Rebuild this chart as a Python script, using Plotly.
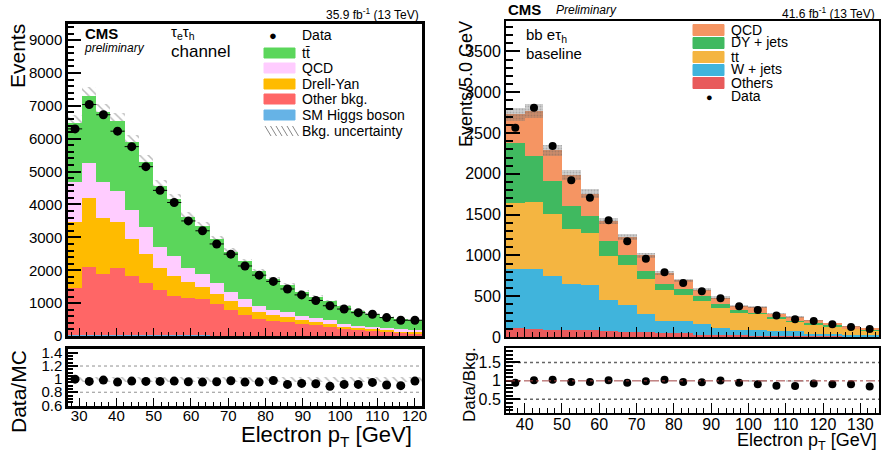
import numpy as np
import plotly.graph_objects as go

W, H = 881, 460

# ---------------- Left panel data (tau_e tau_h channel, 35.9 fb-1) ----------------
left_edges = np.linspace(27, 122, 26)
left_centers = 0.5 * (left_edges[:-1] + left_edges[1:])
left_width = left_edges[1] - left_edges[0]

left_higgs = [30, 35, 32, 30, 28, 25, 22, 20, 18, 16, 14, 12, 10, 9, 8, 7, 6, 5, 5, 4, 4, 3, 3, 2, 2]
left_other = [1440, 2055, 1868, 2050, 1782, 1585, 1378, 1200, 1152, 1104, 956, 778, 630, 511, 452, 413, 364, 315, 275, 226, 196, 167, 137, 108, 88]
left_dy = [2000, 2100, 1680, 1390, 1150, 880, 680, 590, 460, 380, 310, 270, 230, 200, 170, 150, 120, 110, 90, 50, 30, 30, 30, 30, 20]
left_qcd = [1200, 1070, 1110, 950, 860, 840, 630, 630, 430, 380, 320, 270, 250, 200, 160, 160, 120, 110, 110, 90, 80, 80, 80, 60, 70]
left_tt = [1810, 2040, 2120, 2115, 2095, 1975, 1860, 1730, 1570, 1480, 1340, 1240, 1150, 1060, 940, 820, 730, 660, 570, 550, 460, 390, 340, 310, 300]
left_data = [6300, 7040, 6730, 6230, 5760, 5150, 4430, 4060, 3500, 3200, 2800, 2490, 2130, 1850, 1660, 1430, 1250, 1080, 920, 820, 710, 660, 560, 480, 480]
left_ratio = [1.00, 0.965, 0.985, 0.955, 0.97, 0.965, 0.965, 0.97, 0.96, 0.955, 0.96, 0.975, 0.955, 0.955, 0.98, 0.92, 0.935, 0.93, 0.89, 0.92, 0.92, 0.95, 0.91, 0.90, 0.97]
left_unc_frac = 0.036
left_ratio_unc = 0.04

# ---------------- Right panel data (bb e tau_h baseline, 41.6 fb-1) ----------------
right_edges = np.linspace(35, 135, 21)
right_centers = 0.5 * (right_edges[:-1] + right_edges[1:])
right_width = right_edges[1] - right_edges[0]

right_others = [110, 100, 90, 85, 80, 70, 65, 60, 55, 50, 29, 25, 20, 18, 15, 12, 10, 8, 7, 6]
right_wjets = [728, 730, 662, 569, 562, 380, 324, 218, 141, 146, 127, 90, 70, 72, 55, 62, 31, 25, 22, 15]
right_tt = [802, 822, 760, 674, 633, 543, 490, 429, 376, 323, 285, 240, 213, 192, 147, 110, 115, 98, 69, 61]
right_dy = [738, 562, 400, 282, 204, 180, 131, 98, 74, 74, 58, 49, 24, 17, 28, 17, 12, 12, 12, 12]
right_qcd = [352, 556, 376, 372, 278, 249, 215, 196, 139, 102, 82, 79, 58, 65, 41, 44, 37, 29, 21, 16]
right_data = [2566, 2811, 2341, 1920, 1708, 1430, 1173, 960, 793, 662, 560, 474, 376, 331, 262, 217, 196, 156, 123, 98]
right_ratio = [0.95, 1.02, 1.03, 0.97, 0.97, 1.02, 0.95, 0.99, 1.03, 0.97, 0.96, 1.01, 0.95, 0.91, 0.87, 0.86, 0.93, 0.91, 0.91, 0.85]
right_ratio_unc = [0.01, 0.01, 0.01, 0.01, 0.01, 0.01, 0.01, 0.01, 0.01, 0.01, 0.01, 0.01, 0.01, 0.03, 0.01, 0.03, 0.01, 0.01, 0.01, 0.01]
right_unc_frac = 0.03

# ---------------- styles ----------------
FONT = "Liberation Sans"
C_L = dict(tt="#5bd65b", qcd="#ffccff", dy="#ffbb00", other="#ff6666", higgs="#66b3e6")
C_R = dict(qcd="#f59563", dy="#40b960", tt="#f4b541", w="#40b4dc", oth="#e85a5b")


def px(x):
    return x / W


def py(y):
    return 1 - y / H


fig = go.Figure()

# ---- left main ----
ltot = np.array(left_higgs) + np.array(left_other) + np.array(left_dy) + np.array(left_qcd) + np.array(left_tt)
fig.add_trace(go.Bar(x=left_centers, y=2 * ltot * left_unc_frac, base=ltot * (1 - left_unc_frac), width=left_width,
                     xaxis="x", yaxis="y", showlegend=False,
                     marker=dict(color="rgba(0,0,0,0)", line=dict(width=0),
                                 pattern=dict(shape="\\", fgcolor="#7a7a7a", bgcolor="rgba(0,0,0,0)",
                                              size=6, solidity=0.25, fillmode="overlay"))))
for vals, col in [(left_higgs, C_L["higgs"]), (left_other, C_L["other"]), (left_dy, C_L["dy"]),
                  (left_qcd, C_L["qcd"]), (left_tt, C_L["tt"])]:
    fig.add_trace(go.Bar(x=left_centers, y=vals, width=left_width, xaxis="x", yaxis="y",
                         marker=dict(color=col, line=dict(width=0)), showlegend=False))
fig.add_trace(go.Scatter(x=left_centers, y=left_data, mode="markers", xaxis="x", yaxis="y",
                         marker=dict(color="black", size=9),
                         error_x=dict(type="constant", value=left_width / 2, thickness=1, width=0, color="black"),
                         showlegend=False))

# ---- left ratio ----
fig.add_trace(go.Bar(x=left_centers, y=[2 * left_ratio_unc] * len(left_centers), base=1 - left_ratio_unc,
                     width=left_width, xaxis="x2", yaxis="y2", showlegend=False,
                     marker=dict(color="rgba(0,0,0,0)", line=dict(width=0),
                                 pattern=dict(shape="\\", fgcolor="#7a7a7a", bgcolor="rgba(0,0,0,0)",
                                              size=6, solidity=0.25, fillmode="overlay"))))
fig.add_trace(go.Scatter(x=left_centers, y=left_ratio, mode="markers", xaxis="x2", yaxis="y2",
                         marker=dict(color="black", size=9), showlegend=False))

# ---- right main ----
rtot = (np.array(right_others) + np.array(right_wjets) + np.array(right_tt) + np.array(right_dy)
        + np.array(right_qcd))
for vals, col in [(right_others, C_R["oth"]), (right_wjets, C_R["w"]), (right_tt, C_R["tt"]),
                  (right_dy, C_R["dy"]), (right_qcd, C_R["qcd"])]:
    fig.add_trace(go.Bar(x=right_centers, y=vals, width=right_width, xaxis="x3", yaxis="y3",
                         marker=dict(color=col, line=dict(width=0)), showlegend=False))
fig.add_trace(go.Bar(x=right_centers, y=2 * rtot * right_unc_frac, base=rtot * (1 - right_unc_frac),
                     width=right_width, xaxis="x3", yaxis="y3", showlegend=False,
                     marker=dict(color="rgba(120,120,120,0.35)", line=dict(width=0),
                                 pattern=dict(shape=".", fgcolor="rgba(90,90,90,0.6)", size=3, solidity=0.3))))
fig.add_trace(go.Scatter(x=right_centers, y=right_data, mode="markers", xaxis="x3", yaxis="y3",
                         marker=dict(color="black", size=8), showlegend=False))

# ---- right ratio ----
fig.add_trace(go.Bar(x=right_centers, y=[2 * u for u in right_ratio_unc],
                     base=[1 - u for u in right_ratio_unc], width=right_width, xaxis="x4", yaxis="y4",
                     marker=dict(color="rgba(170,170,170,0.5)", line=dict(width=0)), showlegend=False))
fig.add_trace(go.Scatter(x=right_centers, y=right_ratio, mode="markers", xaxis="x4", yaxis="y4",
                         marker=dict(color="black", size=8), showlegend=False))

# ---------------- axes ----------------
def xax(domain, rng, labels, anchor, tl_major, tl_minor, size, lw, standoff=0):
    return dict(domain=domain, range=rng, anchor=anchor, showgrid=False, zeroline=False, automargin=False,
                showline=True, mirror=True, linecolor="black", linewidth=lw,
                ticks="inside", ticklen=tl_major, tickwidth=1, tickcolor="black", dtick=10, tick0=0,
                minor=dict(ticks="inside", ticklen=tl_minor, dtick=2, tickcolor="black", showgrid=False),
                showticklabels=labels, ticklabelstandoff=standoff,
                tickfont=dict(family=FONT, size=size, color="black"))


def yax(domain, rng, anchor, dtick, mdtick, tl_major, tl_minor, size, lw, tickvals=None):
    d = dict(domain=domain, range=rng, anchor=anchor, showgrid=False, zeroline=False, automargin=False,
             showline=True, mirror=True, linecolor="black", linewidth=lw,
             ticks="inside", ticklen=tl_major, tickwidth=1.5, tickcolor="black",
             minor=dict(ticks="inside", ticklen=tl_minor, dtick=mdtick, tick0=0, tickcolor="black", showgrid=False),
             tickfont=dict(family=FONT, size=size, color="black"))
    if tickvals is not None:
        d["tickvals"] = tickvals
    else:
        d["dtick"] = dtick
        d["tick0"] = 0
    return d


LX = [px(68), px(422)]
RX = [px(506), px(879)]
fig.update_layout(
    xaxis=xax(LX, [27, 122], False, "y", 8, 4, 15, 2.5),
    yaxis=yax([py(336), py(24)], [0, 9490], "x", 1000, 200, 13, 6, 15, 2.5),
    xaxis2=xax(LX, [27, 122], True, "y2", 8, 4, 15, 2.5, standoff=-6),
    yaxis2=yax([py(406), py(349)], [0.59, 1.46], "x2", None, 0.05, 10, 5, 15, 2.5,
               tickvals=[0.6, 0.8, 1.0, 1.2, 1.4]),
    xaxis3=xax(RX, [35, 135], False, "y3", 10, 5, 16, 2),
    yaxis3=yax([py(337), py(21)], [0, 3873], "x3", 500, 100, 14, 7, 16, 2),
    xaxis4=xax(RX, [35, 135], True, "y4", 10, 5, 16, 2, standoff=-4),
    yaxis4=yax([py(413), py(348)], [0.13, 1.89], "x4", None, 0.1, 14, 7, 16, 2,
               tickvals=[0.5, 1.0, 1.5]),
)
fig.update_layout(yaxis2=dict(ticktext=["0.6", "0.8", "1", "1.2", "1.4"]),
                  yaxis4=dict(ticktext=["0.5", "1", "1.5"]))

fig.update_layout(barmode="stack", bargap=0, width=W, height=H,
                  margin=dict(l=0, r=0, t=0, b=0), plot_bgcolor="white", paper_bgcolor="white",
                  showlegend=False, font=dict(family=FONT, color="black"))

# ---------------- reference lines in ratio panels ----------------
shapes = []
for yv in [0.8, 1.2]:
    shapes.append(dict(type="line", xref="x2 domain", yref="y2", x0=0, x1=1, y0=yv, y1=yv,
                       line=dict(color="#909090", width=1, dash="dot"), layer="below"))
for yv in [0.5, 1.5]:
    shapes.append(dict(type="line", xref="x4 domain", yref="y4", x0=0, x1=1, y0=yv, y1=yv,
                       line=dict(color="#666666", width=1.5, dash="dot"), layer="below"))
shapes.append(dict(type="line", xref="x4 domain", yref="y4", x0=0, x1=1, y0=1, y1=1,
                   line=dict(color="#a04040", width=1, dash="dashdot"), layer="above"))

# ---------------- manual legends ----------------
ann = []


def text(x, y, s, size, xanchor="left", bold=False, italic=False, angle=0, yanchor="middle"):
    if bold:
        s = "<b>" + s + "</b>"
    if italic:
        s = "<i>" + s + "</i>"
    ann.append(dict(x=px(x), y=py(y), xref="paper", yref="paper", text=s, showarrow=False,
                    xanchor=xanchor, yanchor=yanchor, textangle=angle,
                    font=dict(family=FONT, size=size, color="black")))


# left legend
left_leg = [("tt̄", C_L["tt"], 53), ("QCD", C_L["qcd"], 68), ("Drell-Yan", C_L["dy"], 84),
            ("Other bkg.", C_L["other"], 99), ("SM Higgs boson", C_L["higgs"], 115)]
text(273, 35, "●", 13, xanchor="center")
text(300, 35, "Data", 14)
for lab, col, yc in left_leg:
    shapes.append(dict(type="rect", xref="paper", yref="paper", x0=px(264), x1=px(295),
                       y0=py(yc + 5), y1=py(yc - 5), fillcolor=col, line=dict(color=col, width=1)))
    text(300, yc, lab, 14)
for k in range(6):
    xa = 265 + k * 5.5
    shapes.append(dict(type="line", xref="paper", yref="paper", x0=px(xa), x1=px(xa + 6),
                       y0=py(126), y1=py(136), line=dict(color="#888888", width=1)))
text(300, 131, "Bkg. uncertainty", 14)

# right legend
right_leg = [("QCD", C_R["qcd"], 30), ("DY + jets", C_R["dy"], 43), ("tt", C_R["tt"], 57),
             ("W + jets", C_R["w"], 70), ("Others", C_R["oth"], 83)]
for lab, col, yc in right_leg:
    shapes.append(dict(type="rect", xref="paper", yref="paper", x0=px(693), x1=px(724),
                       y0=py(yc + 5.5), y1=py(yc - 5.5), fillcolor=col, line=dict(color=col, width=1)))
    text(729, yc - 0.5, lab, 14)
text(709, 97, "●", 11, xanchor="center")
text(729, 96, "Data", 14)

# ---------------- labels ----------------
text(421, 14, "35.9 fb<sup>-1</sup> (13 TeV)", 12, xanchor="right")
text(83, 33, "CMS", 15, bold=True)
text(82, 48, "preliminary", 12, italic=True)
text(169, 32, "τ<sub>e</sub>τ<sub>h</sub>", 15)
text(169, 51, "channel", 17)
text(18, 56, "Events", 21, xanchor="center", angle=-90)
text(18, 392, "Data/MC", 21, xanchor="center", angle=-90)
text(414, 436, "Electron p<sub>T</sub> [GeV]", 22, xanchor="right")

text(506, 10, "CMS", 15, bold=True)
text(554, 10, "Preliminary", 12, italic=True)
text(877, 13, "41.6 fb<sup>-1</sup> (13 TeV)", 12, xanchor="right")
text(524, 35, "bb eτ<sub>h</sub>", 15)
text(524, 53, "baseline", 15)
text(466, 84, "Events/5.0 GeV", 18, xanchor="center", angle=-90)
text(469, 385, "Data/Bkg.", 17, xanchor="center", angle=-90)
text(879, 441, "Electron p<sub>T</sub> [GeV]", 18, xanchor="right")

fig.update_layout(shapes=shapes, annotations=ann)
fig.write_html("out.html")
